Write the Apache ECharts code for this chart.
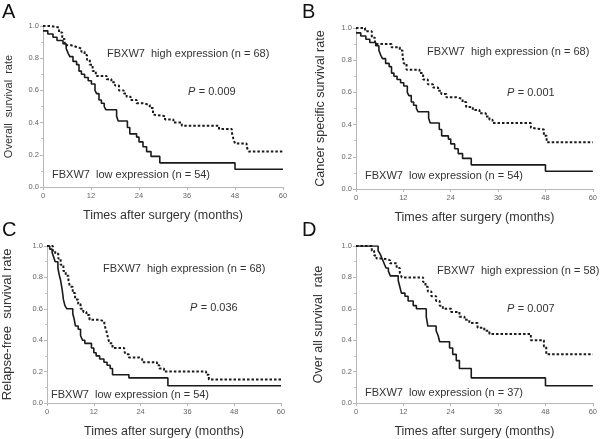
<!DOCTYPE html>
<html><head><meta charset="utf-8">
<script src="https://cdn.jsdelivr.net/npm/echarts@6/dist/echarts.min.js"></script>
<style>html,body{margin:0;padding:0;background:#fff}#c{width:600px;height:439px}</style>
</head><body><div id="c"></div>
<script>
// Kaplan-Meier step data: [month, survival]
const xTicks = [0, 12, 24, 36, 48, 60];
const yTicks = [0, 0.2, 0.4, 0.6, 0.8, 1.0];

const A_low = [[0,0.97],[1.2,0.95],[2.5,0.93],[3.5,0.91],[5,0.89],[5.8,0.86],[6.3,0.83],[6.7,0.81],[7.5,0.78],[8.4,0.76],[9,0.72],[9.6,0.70],[10.4,0.68],[11.3,0.66],[12.1,0.64],[13,0.60],[13.4,0.58],[14,0.54],[14.6,0.52],[15.3,0.50],[15.7,0.48],[18.4,0.44],[18.8,0.41],[21.1,0.37],[21.7,0.33],[23.4,0.31],[24,0.28],[25,0.25],[25.9,0.22],[27,0.19],[29.2,0.15],[48,0.11],[60,0.11]];
const A_high = [[0,1.0],[2,0.99],[4,0.96],[4.8,0.92],[5.4,0.88],[7.1,0.87],[8.4,0.86],[9.6,0.84],[10.4,0.82],[11,0.79],[11.7,0.76],[12.4,0.72],[13.2,0.69],[15.9,0.67],[17.1,0.65],[18,0.63],[19,0.60],[20.2,0.58],[20.9,0.56],[21.9,0.54],[23.4,0.52],[25,0.51],[26.7,0.49],[27.5,0.45],[28,0.44],[30.5,0.42],[32.6,0.40],[34.7,0.38],[44,0.36],[47.2,0.34],[47.6,0.30],[48,0.27],[50.9,0.25],[51.4,0.22],[60,0.22]];

const B_low = [[0,0.97],[1.2,0.95],[2.5,0.93],[3.5,0.91],[5,0.89],[5.8,0.86],[6.3,0.83],[6.7,0.81],[7.5,0.78],[8.4,0.76],[9,0.72],[9.6,0.70],[10.4,0.68],[11.3,0.66],[12.1,0.64],[13,0.60],[13.4,0.58],[14,0.54],[14.6,0.52],[15.3,0.50],[15.7,0.48],[18.4,0.44],[18.8,0.41],[21.1,0.37],[21.7,0.33],[23.4,0.31],[24,0.28],[25,0.25],[25.9,0.22],[27,0.19],[29.2,0.15],[48,0.11],[60,0.11]];
const B_high = [[0,1.0],[2.3,0.98],[4,0.94],[4.8,0.90],[9,0.88],[11.1,0.86],[11.8,0.83],[12.1,0.78],[12.8,0.74],[16.1,0.72],[17,0.68],[18.2,0.65],[19.5,0.63],[20.8,0.61],[21.6,0.59],[22.9,0.57],[25.4,0.56],[27,0.54],[27.9,0.51],[29.6,0.49],[31.3,0.47],[32.9,0.45],[33.8,0.43],[34.6,0.41],[44.3,0.38],[44.8,0.37],[47.6,0.33],[48.3,0.29],[60,0.29]];

const C_low = [[0,1.0],[0.7,0.98],[1.3,0.96],[1.7,0.93],[2.1,0.90],[2.8,0.86],[3.1,0.82],[3.5,0.78],[3.9,0.72],[4.2,0.66],[4.6,0.62],[5.1,0.60],[6.6,0.57],[7,0.53],[7.3,0.49],[8,0.47],[8.6,0.43],[9.1,0.40],[9.7,0.38],[11.4,0.35],[12,0.32],[12.6,0.30],[13.5,0.28],[14.6,0.26],[15.4,0.24],[16.2,0.22],[16.8,0.18],[21,0.16],[31,0.11],[60,0.11]];
const C_high = [[0,1.0],[1.5,0.97],[2.1,0.95],[2.9,0.92],[3.5,0.88],[4.2,0.84],[4.8,0.81],[5.5,0.78],[5.9,0.74],[6.6,0.70],[7.2,0.66],[8,0.63],[8.6,0.60],[9.3,0.58],[10.1,0.56],[10.9,0.53],[13.5,0.52],[14.7,0.50],[15.2,0.46],[15.6,0.42],[16,0.38],[16.8,0.35],[19.8,0.33],[20.2,0.31],[21,0.29],[23.6,0.28],[24.4,0.26],[28.2,0.24],[28.8,0.22],[30,0.20],[40.8,0.18],[41.5,0.15],[60,0.15]];

const D_low = [[0,1.0],[5.6,0.97],[6.1,0.95],[6.6,0.92],[7.1,0.89],[7.6,0.86],[8.2,0.84],[8.7,0.81],[10.7,0.78],[11.1,0.74],[11.5,0.70],[12.4,0.68],[13.2,0.65],[14.5,0.62],[15.3,0.60],[17.8,0.55],[18.2,0.49],[20.3,0.46],[20.8,0.43],[21.2,0.39],[23.7,0.35],[24.5,0.31],[25.4,0.27],[26.2,0.22],[29.2,0.16],[48,0.11],[60,0.11]];
const D_high = [[0,1.0],[4,0.97],[4.6,0.94],[5.2,0.92],[6.9,0.91],[8.6,0.89],[10.3,0.86],[11.1,0.83],[11.6,0.80],[17,0.77],[17.6,0.74],[18.2,0.71],[19.1,0.68],[20.3,0.65],[21.2,0.62],[22,0.60],[24.1,0.58],[26.2,0.55],[27.5,0.53],[28.7,0.51],[30.8,0.48],[32.5,0.46],[33.8,0.44],[44.3,0.40],[47.6,0.36],[48.2,0.31],[60,0.31]];

const panels = [
  {letter:'A', yName:'Overall  survival  rate', yFont:11, low:A_low, high:A_high, grid:{left:43,top:26,width:240,height:161}, nHigh:68, nLow:54, p:'0.009', yGap:29, xGap:22, hi:[107,48], pp:[188,86], lo:[52,169]},
  {letter:'B', yName:'Cancer specific survival rate', yFont:12.5, low:B_low, high:B_high, grid:{left:356,top:28,width:238,height:161}, nHigh:68, nLow:54, p:'0.001', yGap:29, xGap:22, hi:[427,46], pp:[507,87], lo:[365,170]},
  {letter:'C', yName:'Relapse-free  survival rate', yFont:13, low:C_low, high:C_high, grid:{left:43,top:246,width:238,height:160}, nHigh:68, nLow:54, p:'0.036', yGap:33, xGap:22, hi:[103,263], pp:[190,302], lo:[51,389]},
  {letter:'D', yName:'Over all survival  rate', yFont:12.5, low:D_low, high:D_high, grid:{left:356,top:246,width:238,height:160}, nHigh:58, nLow:37, p:'0.007', yGap:31, xGap:22, hi:[437,265], pp:[507,303], lo:[365,387]}
];

const grids=[], xAxes=[], yAxes=[], series=[], graphics=[];
const axisLine = {lineStyle:{color:'#b8b8b8', width:1}};
const tf = {fontSize:11, fill:'#333', fontFamily:'Liberation Sans'};
panels.forEach((p,i)=>{
  grids.push(p.grid);
  xAxes.push({gridIndex:i, type:'value', min:0, max:60, interval:12,
    name:'Times after surgery (months)', nameLocation:'middle', nameGap:p.xGap,
    nameTextStyle:{color:'#333', fontSize:12.5, fontFamily:'Liberation Sans'},
    axisLine:axisLine, axisTick:{show:true, length:3, lineStyle:{color:'#b8b8b8'}},
    axisLabel:{color:'#666', fontSize:7.5, margin:5, fontFamily:'Liberation Sans'},
    splitLine:{show:false}});
  yAxes.push({gridIndex:i, type:'value', min:0, max:1, interval:0.2,
    name:p.yName, nameLocation:'middle', nameGap:p.yGap,
    nameTextStyle:{color:'#333', fontSize:p.yFont, fontFamily:'Liberation Sans'},
    axisLine:{show:true, lineStyle:{color:'#b8b8b8'}},
    axisTick:{show:true, length:3, lineStyle:{color:'#b8b8b8'}},
    minorTick:{show:true, splitNumber:2, length:2, lineStyle:{color:'#c8c8c8'}},
    axisLabel:{color:'#666', fontSize:7.5, margin:4, fontFamily:'Liberation Sans', formatter:v=>v.toFixed(1)},
    splitLine:{show:false}});
  series.push({type:'line', xAxisIndex:i, yAxisIndex:i, step:'end', data:p.low, symbol:'none',
    lineStyle:{color:'#1a1a1a', width:1.6}, silent:true});
  series.push({type:'line', xAxisIndex:i, yAxisIndex:i, step:'end', data:p.high, symbol:'none',
    lineStyle:{color:'#1a1a1a', width:2, type:[2.5,2]}, silent:true});
  const lx = (i%2===0)?2:302, ly = (i<2)?2:220;
  graphics.push({type:'text', left:lx, top:ly, style:{text:p.letter, fontSize:20, fill:'#111', fontFamily:'Liberation Sans'}});
  graphics.push({type:'text', left:p.hi[0], top:p.hi[1], style:Object.assign({text:'FBXW7  high expression (n = '+p.nHigh+')'}, tf)});
  graphics.push({type:'text', left:p.pp[0], top:p.pp[1], style:{rich:{i:{fontStyle:'italic', fontSize:11, fill:'#333', fontFamily:'Liberation Sans'}, n:{fontSize:11, fill:'#333', fontFamily:'Liberation Sans'}}, text:'{i|P} {n|= '+p.p+'}'}});
  graphics.push({type:'text', left:p.lo[0], top:p.lo[1], style:Object.assign({text:'FBXW7  low expression (n = '+p.nLow+')'}, tf)});
});

const chart = echarts.init(document.getElementById('c'), null, {renderer:'canvas'});
chart.setOption({animation:false, backgroundColor:'#fff', grid:grids, xAxis:xAxes, yAxis:yAxes, series:series, graphic:graphics});
</script></body></html>
